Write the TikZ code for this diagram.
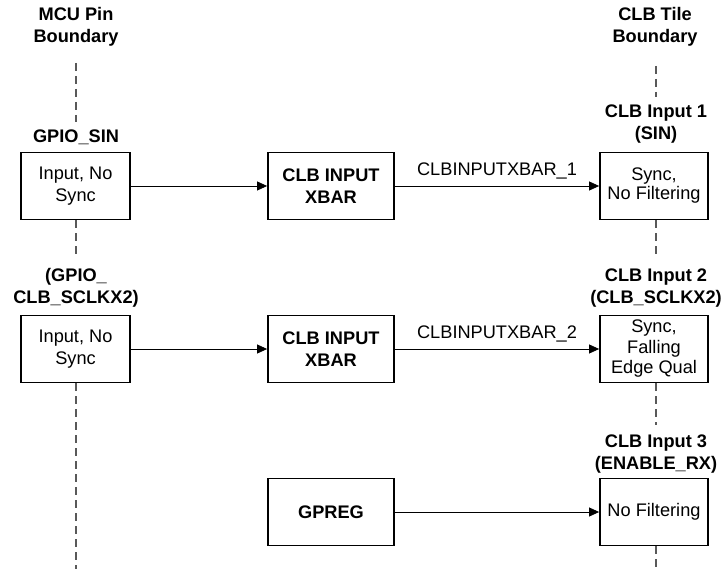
\documentclass[tikz,border=0pt]{standalone}
\usepackage{fontspec}
\setmainfont{Liberation Sans}
\usetikzlibrary{arrows.meta}
\begin{document}
\begin{tikzpicture}[x=1pt,y=-1pt,
  txt/.style={font=\fontsize{18.2}{22}\selectfont, align=center, inner sep=0pt},
  btxt/.style={txt, font=\fontsize{18.2}{22}\selectfont\bfseries},
  blk/.style={draw, line width=1.8pt, txt, minimum height=67pt},
  bblk/.style={blk, font=\fontsize{18.2}{22}\selectfont\bfseries, minimum width=126pt},
  conn/.style={line width=0.8pt, -{Triangle[length=10pt,width=9pt]}},
  bnd/.style={draw=black!65, line width=1.3pt, dash pattern=on 8pt off 5pt}]
\useasboundingbox (0,0) rectangle (722,569);
% titles
\node[btxt] (t1) at (76,27) {MCU Pin\\Boundary};
\node[btxt] (t2) at (655,27) {CLB Tile\\Boundary};
% left boxes
\node[blk, minimum width=109pt] (l1) at (75.5,186) {Input, No\\Sync};
\node[blk, minimum width=109pt] (l2) at (75.5,349) {Input, No\\Sync};
\node[btxt] (gl1) at (76,137) {GPIO\_SIN};
\node[btxt] (gl2) at (76,288) {(GPIO\_\\CLB\_SCLKX2)};
% middle
\node[bblk] (x1) at (331,186) {CLB INPUT\\XBAR};
\node[bblk] (x2) at (331,349) {CLB INPUT\\XBAR};
\node[bblk] (g) at (331,512) {GPREG};
% right
\node[blk, minimum width=108pt, font=\fontsize{18.2}{19}\selectfont] (r1) at (654,186) {Sync,\\No Filtering};
\node[blk, minimum width=108pt, font=\fontsize{18.2}{20.5}\selectfont] (r2) at (654,349) {Sync,\\Falling\\Edge Qual};
\node[blk, minimum width=108pt] (r3) at (654,512) {No Filtering};
\node[btxt] (cl1) at (656,124) {CLB Input 1\\(SIN)};
\node[btxt] (cl2) at (656,288) {CLB Input 2\\(CLB\_SCLKX2)};
\node[btxt] (cl3) at (656,454) {CLB Input 3\\(ENABLE\_RX)};
% connectors
\draw[conn] (l1) -- (x1);
\draw[conn] (l2) -- (x2);
\draw[conn] (x1) -- node[txt, above=15.5pt, anchor=center]{CLBINPUTXBAR\_1} (r1);
\draw[conn] (x2) -- node[txt, above=15.5pt, anchor=center]{CLBINPUTXBAR\_2} (r2);
\draw[conn] (g) -- (r3);
% boundaries
\coordinate (la) at (76,63); \coordinate (lb) at (76,122);
\coordinate (lc) at (76,258); \coordinate (ld) at (76,569);
\coordinate (ra) at (656,66); \coordinate (rb) at (656,97);
\coordinate (rc) at (656,258); \coordinate (rd) at (656,425);
\coordinate (re) at (656,569);
\draw[bnd] (la) -- (lb);
\draw[bnd] (l1.south -| la) -- (lc);
\draw[bnd] (l2.south -| la) -- (ld);
\draw[bnd] (ra) -- (rb);
\draw[bnd] (r1.south -| ra) -- (rc);
\draw[bnd] (r2.south -| ra) -- (rd);
\draw[bnd] (r3.south -| ra) -- (re);
\end{tikzpicture}
\end{document}
